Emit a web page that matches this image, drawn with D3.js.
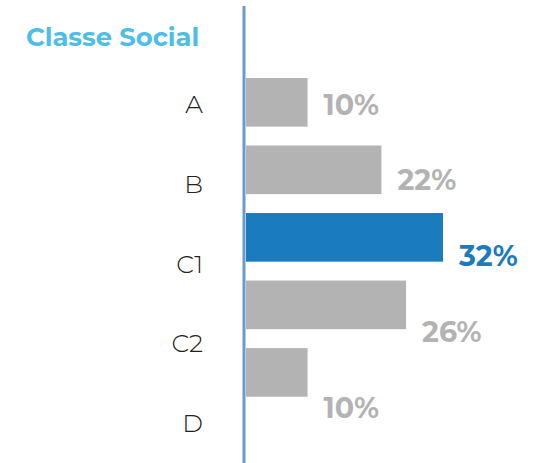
<!DOCTYPE html>
<html>
<head>
<meta charset="utf-8">
<script src="https://cdn.jsdelivr.net/npm/d3@7"></script>
<style>
  body { margin: 0; background: #fff; }
  svg { display: block; }
</style>
</head>
<body>
<div id="chart"></div>
<script>
// data
const categories = ["A", "B", "C1", "C2", "D"];
const values = [10, 22, 32, 26, 10];
const valueLabels = ["10%", "22%", "32%", "26%", "10%"];
const highlight = "C1";
const title = "Classe Social";

const W = 538, H = 463;
const axisX = 244;

const grey = "#b3b3b3", blue = "#1b7bbf";

const svg = d3.select("#chart").append("svg")
  .attr("width", W)
  .attr("height", H);

// bars
const x = d3.scaleLinear().domain([0, 32]).range([axisX + 2, axisX + 2 + 197]);
const y = d3.scaleBand().domain(categories).range([78, 396.7])
  .paddingInner(0.28).paddingOuter(0);

// labels don't sit centred on the bars in the original, they drift down
const yCat = d3.scalePoint().domain(categories).range([113.3, 431.7]);
const yVal = d3.scalePoint().domain(categories).range([114.5, 417.5]);

svg.append("text")
  .attr("x", 26)
  .attr("y", 45.5)
  .style("font-family", "Montserrat, 'Open Sans', sans-serif")
  .style("font-weight", 700)
  .style("font-size", "25.8px")
  .style("fill", "#4dbde9")
  .text(title);

svg.selectAll(".bar")
  .data(categories)
  .enter().append("rect")
  .attr("class", "bar")
  .attr("x", x(0))
  .attr("y", d => y(d))
  .attr("width", (d, i) => x(values[i]) - x(0))
  .attr("height", y.bandwidth())
  .style("fill", d => d == highlight ? blue : grey);

svg.selectAll(".val")
  .data(categories)
  .enter().append("text")
  .attr("class", "val")
  .attr("x", (d, i) => x(values[i]) + 16)
  .attr("y", d => yVal(d))
  .style("font-family", "Montserrat, 'Open Sans', sans-serif")
  .style("font-weight", 700)
  .style("font-size", "28.5px")
  .style("fill", d => d == highlight ? blue : grey)
  .text((d, i) => valueLabels[i]);

svg.selectAll(".cat")
  .data(categories)
  .enter().append("text")
  .attr("class", "cat")
  .attr("x", 203)
  .attr("y", d => yCat(d))
  .attr("text-anchor", "end")
  .style("font-family", "Montserrat, Lato, 'Open Sans', sans-serif")
  .style("font-weight", 300)
  .style("font-size", "25px")
  .style("fill", "#222")
  .text(d => d);

// vertical axis line
svg.append("line")
  .attr("x1", axisX).attr("x2", axisX)
  .attr("y1", 6).attr("y2", H)
  .style("stroke", "#6a9ad4")
  .style("stroke-width", 3);
</script>
</body>
</html>
